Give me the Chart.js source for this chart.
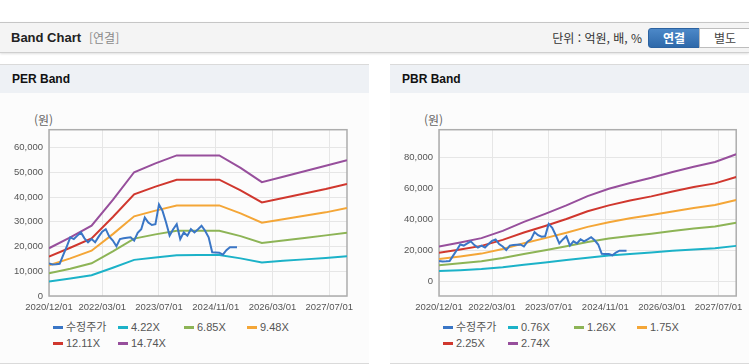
<!DOCTYPE html>
<html lang="ko">
<head>
<meta charset="UTF-8" />
<title>Band Chart</title>
<script src="https://cdn.jsdelivr.net/npm/chart.js"></script>
<style>
  body {
    margin: 0;
    width: 749px;
    height: 364px;
    overflow: hidden;
    position: relative;
    background: #fff;
    font-family: "Liberation Sans", Arial, "Noto Sans CJK KR", sans-serif;
  }
  .topbar {
    position: absolute; left: 0; top: 22px; width: 749px; height: 29px;
    background: #f4f4f4;
    border-top: 1px solid #c6c6c6;
    border-bottom: 1px solid #cfcfcf;
    box-shadow: 0 1px 2px rgba(0,0,0,0.12);
  }
  .topbar .title { position: absolute; left: 11px; top: 7px; font-size: 13px; font-weight: bold; color: #222; }
  .topbar .sub { position: absolute; left: 89px; top: 8px; font-size: 12px; color: #8a8a8a; font-family: "Noto Sans CJK KR", sans-serif; line-height: 14px; }
  .topbar .unit { position: absolute; right: 107px; top: 7px; font-size: 12px; color: #333; font-family: "Noto Sans CJK KR", sans-serif; line-height: 15px; }
  .btn {
    position: absolute; top: 5px; height: 18px; line-height: 18px; text-align: center;
    font-size: 12px; font-family: "Noto Sans CJK KR", sans-serif;
  }
  .btn.on { left: 648px; width: 50px; background: linear-gradient(#4c88c8, #2e69aa); border: 1px solid #2c62a0; color: #fff; font-weight: bold; border-radius: 3px 0 0 3px; }
  .btn.off { left: 699px; width: 50px; background: #fff; border: 1px solid #bdbdbd; color: #444; }
  .panel {
    position: absolute; top: 64px; height: 298px;
    background: #fcfcfc;
    border-top: 1px solid #dadada;
    border-bottom: 1px solid #dadada;
  }
  .panel .head {
    height: 28px; line-height: 28px; background: #eef1f5;
    padding-left: 12px; font-size: 12px; font-weight: bold; color: #111;
  }
  .unitlabel { position: absolute; top: 111px; font-size: 12px; color: #666; font-family: "Noto Sans CJK KR", sans-serif; }
  canvas { position: absolute; }
  .legend { position: absolute; top: 320px; height: 32px; font-size: 11px; color: #555; }
  .legend .item { position: absolute; height: 14px; line-height: 14px; white-space: nowrap; }
  .legend .sw { position: absolute; left: 0; top: 6px; width: 10px; height: 3px; }
  .legend .tx { position: absolute; left: 13px; top: 0; }
</style>
</head>
<body>

<div class="topbar">
  <span class="title">Band Chart</span>
  <span class="sub">[연결]</span>
  <span class="unit">단위 : 억원, 배, %</span>
  <div class="btn on">연결</div>
  <div class="btn off">별도</div>
</div>

<div class="panel" style="left:0; width:369px;"><div class="head">PER Band</div></div>
<div class="panel" style="left:390px; width:359px;"><div class="head">PBR Band</div></div>

<div class="unitlabel" style="left:34px;">(원)</div>
<div class="unitlabel" style="left:424px;">(원)</div>

<canvas id="perChart" width="369" height="200" style="left:0; top:118px;"></canvas>
<canvas id="pbrChart" width="359" height="200" style="left:390px; top:118px;"></canvas>

<div class="legend" id="perLegend" style="left:0; width:369px;"></div>
<div class="legend" id="pbrLegend" style="left:390px; width:359px;"></div>

<script>
// ---- data ----
const axisStart = '2020/12';
const axisEnd = '2027/12';
const xTickLabels = ['2020/12/01', '2022/03/01', '2023/07/01', '2024/11/01', '2026/03/01', '2027/07/01'];

// adjusted share price, monthly from 2020/12
const priceStart = '2020/12';
const priceValues = [
  13100, 12700, 12800, 13000, 16500, 20000, 23700, 23000, 24400, 25700,
  23300, 21700, 23000, 21700, 24000, 26000, 27000, 24000, 22400, 20100,
  23000, 23300, 23500, 23700, 22400, 25500, 27000, 31700, 29700, 28700,
  29000, 37000, 34400, 29700, 24400, 27000, 29000, 23000, 25700, 24400,
  27000, 25700, 27000, 28400, 26400, 23700, 17700, 17600, 17500, 16700,
  18500, 19700, 19700, 19700
];

const bandDates = ['2020/12', '2021/06', '2021/12', '2022/06', '2022/12', '2023/06', '2023/12', '2024/06',
                   '2024/12', '2025/06', '2025/12', '2026/06', '2026/12', '2027/06', '2027/12'];

const perLabels = ['4.22X', '6.85X', '9.48X', '12.11X', '14.74X'];
const per422 = [5900, 7100, 8400, 11400, 14600, 15600, 16500, 16600, 16600, 15200, 13500, 14200, 14800, 15400, 16100];
const per685 = [9200, 11000, 13200, 18000, 23200, 24900, 26400, 26400, 26400, 24200, 21400, 22400, 23400, 24500, 25600];
const per948 = [12400, 15200, 18300, 25000, 32200, 34500, 36600, 36600, 36600, 33400, 29600, 31000, 32400, 33800, 35600];
const per1211 = [15900, 19500, 23300, 31900, 41100, 44200, 47000, 47000, 47000, 42700, 37800, 39600, 41400, 43200, 45300];
const per1474 = [19300, 23700, 28400, 38800, 50000, 53600, 56800, 56800, 56800, 51800, 46000, 48200, 50400, 52600, 54900];
const perYTicks = [0, 10000, 20000, 30000, 40000, 50000, 60000];

const pbrLabels = ['0.76X', '1.26X', '1.75X', '2.25X', '2.74X'];
const pbr076 = [6500, 7100, 7800, 9000, 10600, 12100, 13600, 15200, 16600, 17600, 18500, 19600, 20500, 21300, 22800];
const pbr126 = [10300, 11500, 12800, 14900, 17600, 20000, 22500, 25300, 27500, 29200, 30700, 32400, 34000, 35400, 37800];
const pbr175 = [14300, 16000, 17800, 20800, 24500, 27800, 31300, 35100, 38100, 40600, 42700, 45000, 47300, 49200, 52400];
const pbr225 = [18400, 20500, 22800, 26700, 31400, 35700, 40200, 45200, 49000, 52100, 54800, 57900, 60800, 63200, 67300];
const pbr274 = [22400, 25000, 27800, 32500, 38300, 43500, 49000, 55000, 59700, 63500, 66800, 70500, 74000, 77000, 82000];
const pbrYTicks = [0, 20000, 40000, 60000, 80000];

const colors = ['#3a76c6', '#1cb2c8', '#8db456', '#f4a637', '#d0372e', '#974f9c'];

// ---- helpers ----
function monthIndex(s) {
  const [y, m] = s.split('/').map(Number);
  const [y0, m0] = axisStart.split('/').map(Number);
  return (y - y0) * 12 + (m - m0);
}
const xTickMonths = xTickLabels.map(l => monthIndex(l.slice(0, 7)));
const bandX = bandDates.map(monthIndex);
const priceX0 = monthIndex(priceStart);

Chart.defaults.font.family = '"Liberation Sans", Arial, sans-serif';
Chart.defaults.animation = false;

const framePlugin = {
  id: 'frame',
  beforeDatasetsDraw(chart) {
    const { ctx, chartArea: a } = chart;
    ctx.save();
    ctx.strokeStyle = '#adadad';
    ctx.lineWidth = 1.5;
    ctx.strokeRect(a.left, a.top, a.right - a.left, a.bottom - a.top);
    ctx.restore();
  }
};

function buildChart(id, bandLabels, bands, yMin, yMax, yTicks, padRight) {
  const datasets = [{
    label: '수정주가',
    data: priceValues.map((v, i) => ({ x: priceX0 + i, y: v })),
    borderColor: colors[0],
    borderWidth: 2
  }];
  bands.forEach((arr, k) => {
    datasets.push({
      label: bandLabels[k],
      data: arr.map((v, i) => ({ x: bandX[i], y: v })),
      borderColor: colors[k + 1],
      borderWidth: 2
    });
  });

  return new Chart(document.getElementById(id), {
    type: 'line',
    data: { datasets },
    options: {
      responsive: false,
      events: [],
      layout: { padding: { top: 10, right: padRight, left: 0, bottom: 0 } },
      elements: { point: { radius: 0 }, line: { tension: 0 } },
      plugins: { legend: { display: false }, tooltip: { enabled: false } },
      scales: {
        x: {
          type: 'linear',
          min: 0,
          max: monthIndex(axisEnd),
          afterBuildTicks: ax => { ax.ticks = xTickMonths.map(v => ({ value: v })); },
          afterFit: s => { s.height = 22; },
          ticks: {
            autoSkip: false, maxRotation: 0, padding: 6,
            color: '#555', font: { size: 9.5 },
            callback: (v, i) => xTickLabels[i]
          },
          grid: { color: '#e6e6e6', drawTicks: false },
          border: { display: false }
        },
        y: {
          min: yMin,
          max: yMax,
          afterBuildTicks: ax => { ax.ticks = yTicks.map(v => ({ value: v })); },
          afterFit: s => { s.width = 49; },
          ticks: {
            padding: 6, color: '#555', font: { size: 9.5 },
            callback: v => v.toLocaleString('en-US')
          },
          grid: { color: '#e6e6e6', drawTicks: false },
          border: { display: false }
        }
      }
    },
    plugins: [framePlugin]
  });
}

function buildLegend(id, bandLabels) {
  const el = document.getElementById(id);
  const labels = ['수정주가'].concat(bandLabels);
  const colX = [53, 118, 184, 247];
  labels.forEach((lab, i) => {
    const item = document.createElement('div');
    item.className = 'item';
    item.style.left = colX[i % 4] + 'px';
    item.style.top = (Math.floor(i / 4) * 16) + 'px';
    item.innerHTML = '<span class="sw" style="background:' + colors[i] + '"></span><span class="tx">' + lab + '</span>';
    el.appendChild(item);
  });
}

buildChart('perChart', perLabels, [per422, per685, per948, per1211, per1474], 0, 67200, perYTicks, 22);
buildChart('pbrChart', pbrLabels, [pbr076, pbr126, pbr175, pbr225, pbr274], -9600, 97900, pbrYTicks, 12);
buildLegend('perLegend', perLabels);
buildLegend('pbrLegend', pbrLabels);
</script>
</body>
</html>
